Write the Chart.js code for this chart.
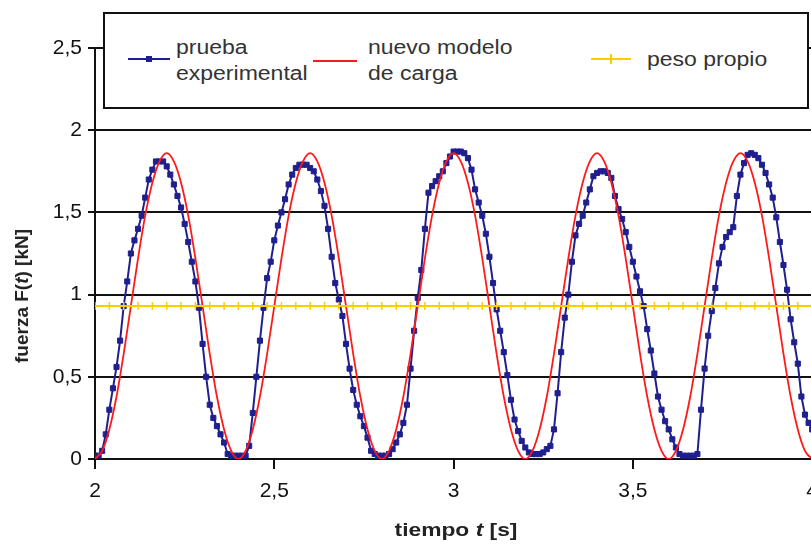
<!DOCTYPE html>
<html>
<head>
<meta charset="utf-8">
<script src="https://cdn.jsdelivr.net/npm/chart.js@4.4.1/dist/chart.umd.min.js"></script>
<style>
  body { margin: 0; overflow: hidden; background: #fff; width: 811px; height: 544px; position: relative; }
  #wrap { position: absolute; left: 0; top: 0; width: 828px; height: 544px; }
  .leg { position: absolute; left: 103px; top: 12px; width: 702px; height: 93px; border: 2px solid #111; background: #fff; font-family: "Liberation Sans", Arial, sans-serif; font-size: 20px; color: #333; }
  .leg .txt { position: absolute; line-height: 26px; transform: scaleX(1.15); transform-origin: left center; white-space: nowrap; }
  .sw { position: absolute; height: 2px; }
  .mk { position: absolute; width: 6px; height: 6px; }
  .ytitle { position: absolute; left: 22px; top: 296px; transform: translate(-50%, -50%) rotate(-90deg); font: bold 19px "Liberation Sans", Arial, sans-serif; color: #222; white-space: nowrap; }
  .xtitle { position: absolute; left: 456px; top: 530px; transform: translate(-50%, -50%) scaleX(1.2); font: bold 19px "Liberation Sans", Arial, sans-serif; color: #222; white-space: nowrap; }
</style>
</head>
<body>
<div id="wrap"><canvas id="myChart" width="828" height="544"></canvas></div>

<div class="leg">
  <div class="sw" style="left:23px; top:44px; width:42px; background:#1f1f8f;"></div>
  <div class="mk" style="left:41px; top:42px; background:#1f1f8f;"></div>
  <div class="txt" style="left:71px; top:20px;">prueba<br>experimental</div>
  <div class="sw" style="left:208px; top:46px; width:44px; background:#ff1a1a;"></div>
  <div class="txt" style="left:263px; top:20px;">nuevo modelo<br>de carga</div>
  <div class="sw" style="left:486px; top:44px; width:40px; background:#ffcc00;"></div>
  <div class="mk" style="left:505px; top:40px; width:2px; height:10px; background:#ffcc00;"></div>
  <div class="txt" style="left:542px; top:32px;">peso propio</div>
</div>
<div class="ytitle">fuerza F(<i>t</i>) [kN]</div>
<div class="xtitle">tiempo <i>t</i> [s]</div>

<script>
// prueba experimental, una muestra cada 0,01 s desde t = 2 s
let expInicio = 2, expPaso = 0.01;
let pruebaExperimental = [
  0.02, 0.02, 0.05, 0.15, 0.30, 0.43, 0.56, 0.72, 0.93, 1.08,
  1.25, 1.33, 1.40, 1.48, 1.59, 1.70, 1.76, 1.81, 1.81, 1.81,
  1.78, 1.73, 1.67, 1.60, 1.53, 1.43, 1.32, 1.20, 1.08, 0.92,
  0.70, 0.50, 0.33, 0.25, 0.20, 0.15, 0.10, 0.03, 0.02, 0.02,
  0.02, 0.02, 0.02, 0.08, 0.28, 0.50, 0.72, 0.92, 1.10, 1.20,
  1.33, 1.42, 1.50, 1.58, 1.67, 1.73, 1.77, 1.79, 1.79, 1.79,
  1.77, 1.75, 1.70, 1.63, 1.54, 1.40, 1.23, 1.07, 0.97, 0.87,
  0.70, 0.55, 0.42, 0.33, 0.26, 0.20, 0.13, 0.05, 0.03, 0.02,
  0.02, 0.02, 0.03, 0.06, 0.10, 0.15, 0.22, 0.33, 0.55, 0.78,
  0.98, 1.15, 1.40, 1.62, 1.66, 1.69, 1.72, 1.75, 1.80, 1.84,
  1.87, 1.87, 1.87, 1.86, 1.83, 1.76, 1.64, 1.56, 1.48, 1.37,
  1.23, 1.07, 0.91, 0.78, 0.65, 0.51, 0.36, 0.24, 0.17, 0.11,
  0.07, 0.04, 0.03, 0.03, 0.03, 0.04, 0.06, 0.08, 0.18, 0.40,
  0.65, 0.86, 1.00, 1.20, 1.36, 1.43, 1.48, 1.56, 1.64, 1.72,
  1.74, 1.75, 1.75, 1.74, 1.71, 1.60, 1.52, 1.46, 1.38, 1.29,
  1.20, 1.11, 1.02, 0.93, 0.79, 0.66, 0.52, 0.38, 0.30, 0.23,
  0.18, 0.12, 0.07, 0.03, 0.02, 0.02, 0.02, 0.02, 0.03, 0.30,
  0.55, 0.75, 0.90, 1.04, 1.19, 1.29, 1.35, 1.38, 1.41, 1.60,
  1.73, 1.80, 1.85, 1.86, 1.85, 1.83, 1.79, 1.74, 1.67, 1.59,
  1.47, 1.32, 1.18, 1.03, 0.85, 0.71, 0.58, 0.38, 0.27, 0.22,
  0.18
];

// nuevo modelo de carga, cada 0,02 s
let modInicio = 2, modPaso = 0.02;
let nuevoModelo = [
  0, 0.05, 0.18, 0.38, 0.64, 0.93, 1.22, 1.48, 1.68, 1.81,
  1.86, 1.81, 1.68, 1.48, 1.22, 0.93, 0.64, 0.38, 0.18, 0.05,
  0, 0.05, 0.18, 0.38, 0.64, 0.93, 1.22, 1.48, 1.68, 1.81,
  1.86, 1.81, 1.68, 1.48, 1.22, 0.93, 0.64, 0.38, 0.18, 0.05,
  0, 0.05, 0.18, 0.38, 0.64, 0.93, 1.22, 1.48, 1.68, 1.81,
  1.86, 1.81, 1.68, 1.48, 1.22, 0.93, 0.64, 0.38, 0.18, 0.05,
  0, 0.05, 0.18, 0.38, 0.64, 0.93, 1.22, 1.48, 1.68, 1.81,
  1.86, 1.81, 1.68, 1.48, 1.22, 0.93, 0.64, 0.38, 0.18, 0.05,
  0, 0.05, 0.18, 0.38, 0.64, 0.93, 1.22, 1.48, 1.68, 1.81,
  1.86, 1.81, 1.68, 1.48, 1.22, 0.93, 0.64, 0.38, 0.18, 0.05,
  0
];

// peso propio, cada 0,04 s
let pesoInicio = 2, pesoPaso = 0.04;
let pesoPropio = [
  0.93, 0.93, 0.93, 0.93, 0.93, 0.93, 0.93, 0.93, 0.93, 0.93,
  0.93, 0.93, 0.93, 0.93, 0.93, 0.93, 0.93, 0.93, 0.93, 0.93,
  0.93, 0.93, 0.93, 0.93, 0.93, 0.93, 0.93, 0.93, 0.93, 0.93,
  0.93, 0.93, 0.93, 0.93, 0.93, 0.93, 0.93, 0.93, 0.93, 0.93,
  0.93, 0.93, 0.93, 0.93, 0.93, 0.93, 0.93, 0.93, 0.93, 0.93,
  0.93
];

let ejeX = [2, 2.5, 3, 3.5, 4];
let ejeY = [0, 0.5, 1, 1.5, 2, 2.5];

function puntos(valores, inicio, paso) {
  return valores.map((v, i) => ({ x: +(inicio + i * paso).toFixed(3), y: v }));
}
function coma(v) { return String(v).replace(".", ","); }

let fuente = { family: "'Liberation Sans', Arial, sans-serif", size: 21 };

new Chart("myChart", {
  type: "line",
  data: {
    datasets: [
      {
        label: "peso propio",
        data: puntos(pesoPropio, pesoInicio, pesoPaso),
        borderColor: "#ffcc00",
        backgroundColor: "#ffcc00",
        borderWidth: 2,
        pointStyle: "crossRot",
        pointRotation: 45,
        pointRadius: 4,
        pointBorderWidth: 1.5
      },
      {
        label: "nuevo modelo de carga",
        data: puntos(nuevoModelo, modInicio, modPaso),
        borderColor: "#ff1a1a",
        borderWidth: 1.8,
        pointRadius: 0,
        cubicInterpolationMode: "monotone"
      },
      {
        label: "prueba experimental",
        data: puntos(pruebaExperimental, expInicio, expPaso),
        borderColor: "#1f1f8f",
        backgroundColor: "#1f1f8f",
        borderWidth: 2,
        pointStyle: "rect",
        pointRadius: 3.6,
        pointBorderWidth: 1
      }
    ]
  },
  options: {
    responsive: false,
    animation: false,
    devicePixelRatio: 1,
    layout: { padding: { top: 48, left: 0, right: 0, bottom: 0 } },
    plugins: { legend: { display: false }, tooltip: { enabled: false } },
    scales: {
      x: {
        type: "linear",
        min: 2, max: 4,
        afterBuildTicks: s => { s.ticks = ejeX.map(v => ({ value: v })); },
        afterFit: s => { s.height = 85; },
        ticks: { callback: coma, font: fuente, color: "#111", padding: 10, maxRotation: 0 },
        grid: { drawOnChartArea: false, color: "#111", lineWidth: 2, tickLength: 10 },
        border: { color: "#111", width: 2 }
      },
      y: {
        min: 0, max: 2.5,
        afterBuildTicks: s => { s.ticks = ejeY.map(v => ({ value: v })); },
        afterFit: s => { s.width = 95; },
        ticks: { callback: coma, font: fuente, color: "#111", padding: 6 },
        grid: { color: "#111", lineWidth: 2, tickLength: 7 },
        border: { color: "#111", width: 2 }
      }
    }
  }
});
</script>
</body>
</html>
